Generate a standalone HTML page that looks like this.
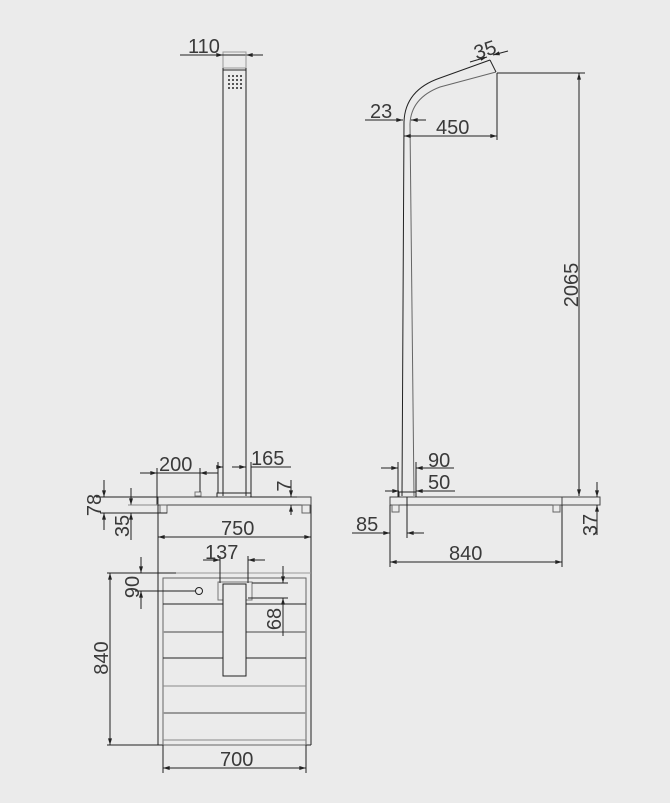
<!DOCTYPE html>
<html><head><style>
html,body{margin:0;padding:0;background:#ebebeb;}
svg{display:block;}
text{font-family:"Liberation Sans",sans-serif;font-size:20px;fill:#3a3a3a;}
</style></head><body>
<svg width="670" height="803" viewBox="0 0 670 803" xmlns="http://www.w3.org/2000/svg">
<defs>
<marker id="a" viewBox="0 0 10 6" refX="10" refY="3" markerWidth="10" markerHeight="4" orient="auto-start-reverse" markerUnits="userSpaceOnUse"><path d="M0,0 L10,3 L0,6z" fill="#222"/></marker>
</defs>
<g stroke="#222" stroke-width="1" fill="none">
<rect x="223" y="52" width="23" height="16" stroke="#999"/>
<line x1="223" y1="70" x2="246" y2="70" stroke="#888" stroke-width="2"/>
<line x1="223" y1="68" x2="223" y2="496"/>
<line x1="246" y1="68" x2="246" y2="496"/>
<rect x="217" y="493" width="34" height="4"/>
<rect x="195" y="492" width="6" height="4" stroke="#777"/>
<rect x="158" y="497" width="153" height="8" stroke="#444"/>
<rect x="160" y="505" width="7" height="8" stroke="#666"/>
<rect x="302" y="505" width="8" height="8" stroke="#666"/>
<line x1="180" y1="55" x2="223" y2="55" marker-end="url(#a)"/>
<line x1="246" y1="55" x2="263" y2="55" marker-start="url(#a)"/>
<line x1="223" y1="55" x2="246" y2="55"/>
<line x1="246" y1="52" x2="246" y2="68" stroke="#999"/>
<line x1="140" y1="473" x2="157" y2="473" marker-end="url(#a)"/>
<line x1="200" y1="473" x2="218" y2="473" marker-start="url(#a)"/>
<line x1="157" y1="473" x2="200" y2="473"/>
<line x1="157" y1="468" x2="157" y2="505"/>
<line x1="200" y1="468" x2="200" y2="492"/>
<line x1="218" y1="462" x2="218" y2="493"/>
<line x1="218" y1="467" x2="223" y2="467" marker-end="url(#a)"/>
<line x1="251" y1="467" x2="291" y2="467"/>
<line x1="232" y1="467" x2="246" y2="467" marker-end="url(#a)"/>
<line x1="251" y1="462" x2="251" y2="493"/>
<line x1="291" y1="480" x2="291" y2="497" marker-end="url(#a)"/>
<line x1="291" y1="515" x2="291" y2="505" marker-end="url(#a)"/>
<line x1="250" y1="497" x2="297" y2="497"/>
<line x1="104" y1="480" x2="104" y2="497" marker-end="url(#a)"/>
<line x1="104" y1="530" x2="104" y2="513" marker-end="url(#a)"/>
<line x1="96" y1="497" x2="158" y2="497"/>
<line x1="100" y1="513" x2="167" y2="513"/>
<line x1="131" y1="488" x2="131" y2="505" marker-end="url(#a)"/>
<line x1="131" y1="540" x2="131" y2="513" marker-end="url(#a)"/>
<line x1="128" y1="505" x2="158" y2="505" stroke="#888"/>
<path d="M402,496 L404,122 Q405,90 440,78 L490,60"/>
<path d="M414,496 L410,124 Q411,98 440,87 L496,72" stroke="#666"/>
<line x1="490" y1="60" x2="496" y2="72"/>
<rect x="399" y="492" width="17" height="5"/>
<rect x="390" y="497" width="172" height="8" stroke="#444"/>
<rect x="562" y="497" width="38" height="8" stroke="#444"/>
<rect x="392" y="505" width="7" height="7" stroke="#666"/>
<rect x="553" y="505" width="7" height="7" stroke="#666"/>
<line x1="470" y1="62" x2="487" y2="57" marker-end="url(#a)"/>
<line x1="508" y1="51" x2="493" y2="55" marker-end="url(#a)"/>
<line x1="365" y1="120" x2="403" y2="120" marker-end="url(#a)"/>
<line x1="426" y1="120" x2="411" y2="120" marker-end="url(#a)"/>
<line x1="404" y1="136" x2="497" y2="136" marker-start="url(#a)" marker-end="url(#a)"/>
<line x1="497" y1="73" x2="497" y2="140"/>
<line x1="497" y1="73" x2="585" y2="73"/>
<line x1="579" y1="73" x2="579" y2="496" marker-start="url(#a)" marker-end="url(#a)"/>
<line x1="381" y1="468" x2="398" y2="468" marker-end="url(#a)"/>
<line x1="454" y1="468" x2="416" y2="468" marker-end="url(#a)"/>
<line x1="398" y1="462" x2="398" y2="497"/>
<line x1="416" y1="462" x2="416" y2="497"/>
<line x1="385" y1="491" x2="399" y2="491" marker-end="url(#a)"/>
<line x1="455" y1="491" x2="416" y2="491" marker-end="url(#a)"/>
<line x1="352" y1="533" x2="390" y2="533" marker-end="url(#a)"/>
<line x1="424" y1="533" x2="407" y2="533" marker-end="url(#a)"/>
<line x1="407" y1="497" x2="407" y2="538"/>
<line x1="390" y1="505" x2="390" y2="567"/>
<line x1="562" y1="505" x2="562" y2="567"/>
<line x1="390" y1="562" x2="562" y2="562" marker-start="url(#a)" marker-end="url(#a)"/>
<line x1="597" y1="482" x2="597" y2="497" marker-end="url(#a)"/>
<line x1="597" y1="520" x2="597" y2="505" marker-end="url(#a)"/>
<line x1="597" y1="505" x2="597" y2="535"/>
<line x1="158" y1="505" x2="158" y2="745"/>
<line x1="311" y1="505" x2="311" y2="745"/>
<line x1="107" y1="573" x2="176" y2="573"/>
<line x1="176" y1="573" x2="311" y2="573" stroke="#999"/>
<line x1="107" y1="745" x2="311" y2="745"/>
<rect x="163" y="578" width="143" height="167" stroke="#666"/>
<line x1="163" y1="604" x2="306" y2="604"/>
<line x1="163" y1="632" x2="306" y2="632" stroke="#999" stroke-width="2"/>
<line x1="163" y1="658" x2="306" y2="658"/>
<line x1="163" y1="686" x2="306" y2="686" stroke="#888"/>
<line x1="163" y1="713" x2="306" y2="713" stroke="#999" stroke-width="2"/>
<line x1="163" y1="740" x2="306" y2="740" stroke="#888"/>
<rect x="218" y="582" width="34" height="18" stroke="#777"/>
<rect x="223" y="584" width="23" height="92" fill="#ebebeb"/>
<circle cx="199" cy="591" r="3.5"/>
<line x1="158" y1="537" x2="311" y2="537" marker-start="url(#a)" marker-end="url(#a)"/>
<line x1="203" y1="560" x2="220" y2="560" marker-end="url(#a)"/>
<line x1="265" y1="560" x2="248" y2="560" marker-end="url(#a)"/>
<line x1="220" y1="556" x2="220" y2="583"/>
<line x1="248" y1="556" x2="248" y2="583"/>
<line x1="141" y1="557" x2="141" y2="573" marker-end="url(#a)"/>
<line x1="141" y1="609" x2="141" y2="591" marker-end="url(#a)"/>
<line x1="135" y1="591" x2="196" y2="591"/>
<line x1="283" y1="566" x2="283" y2="583" marker-end="url(#a)"/>
<line x1="283" y1="636" x2="283" y2="598" marker-end="url(#a)"/>
<line x1="252" y1="583" x2="288" y2="583"/>
<line x1="248" y1="598" x2="288" y2="598"/>
<line x1="110" y1="573" x2="110" y2="745" marker-start="url(#a)" marker-end="url(#a)"/>
<line x1="163" y1="745" x2="163" y2="773"/>
<line x1="306" y1="745" x2="306" y2="773"/>
<line x1="163" y1="768" x2="306" y2="768" marker-start="url(#a)" marker-end="url(#a)"/>
</g>
<g fill="#555">
<rect x="228" y="75" width="2" height="2"/><rect x="232" y="75" width="2" height="2"/><rect x="236" y="75" width="2" height="2"/><rect x="240" y="75" width="2" height="2"/>
<rect x="228" y="79" width="2" height="2"/><rect x="232" y="79" width="2" height="2"/><rect x="236" y="79" width="2" height="2"/><rect x="240" y="79" width="2" height="2"/>
<rect x="228" y="83" width="2" height="2"/><rect x="232" y="83" width="2" height="2"/><rect x="236" y="83" width="2" height="2"/><rect x="240" y="83" width="2" height="2"/>
<rect x="228" y="87" width="2" height="2"/><rect x="232" y="87" width="2" height="2"/><rect x="236" y="87" width="2" height="2"/><rect x="240" y="87" width="2" height="2"/>
</g>
<text x="188" y="53">110</text>
<text x="159" y="471">200</text>
<text x="251" y="465">165</text>
<text transform="translate(291,486) rotate(-90)" text-anchor="middle">7</text>
<text transform="translate(101,505) rotate(-90)" text-anchor="middle">78</text>
<text transform="translate(129,526) rotate(-90)" text-anchor="middle">35</text>
<text x="474" y="56" transform="rotate(-18 487 50)">35</text>
<text x="370" y="118">23</text>
<text x="436" y="134">450</text>
<text transform="translate(578,285) rotate(-90)" text-anchor="middle">2065</text>
<text x="428" y="467">90</text>
<text x="428" y="489">50</text>
<text x="356" y="531">85</text>
<text x="449" y="560">840</text>
<text transform="translate(597,525) rotate(-90)" text-anchor="middle">37</text>
<text x="221" y="535">750</text>
<text x="205" y="559">137</text>
<text transform="translate(139,587) rotate(-90)" text-anchor="middle">90</text>
<text transform="translate(281,619) rotate(-90)" text-anchor="middle">68</text>
<text transform="translate(108,658) rotate(-90)" text-anchor="middle">840</text>
<text x="220" y="766">700</text>
</svg>
</body></html>
